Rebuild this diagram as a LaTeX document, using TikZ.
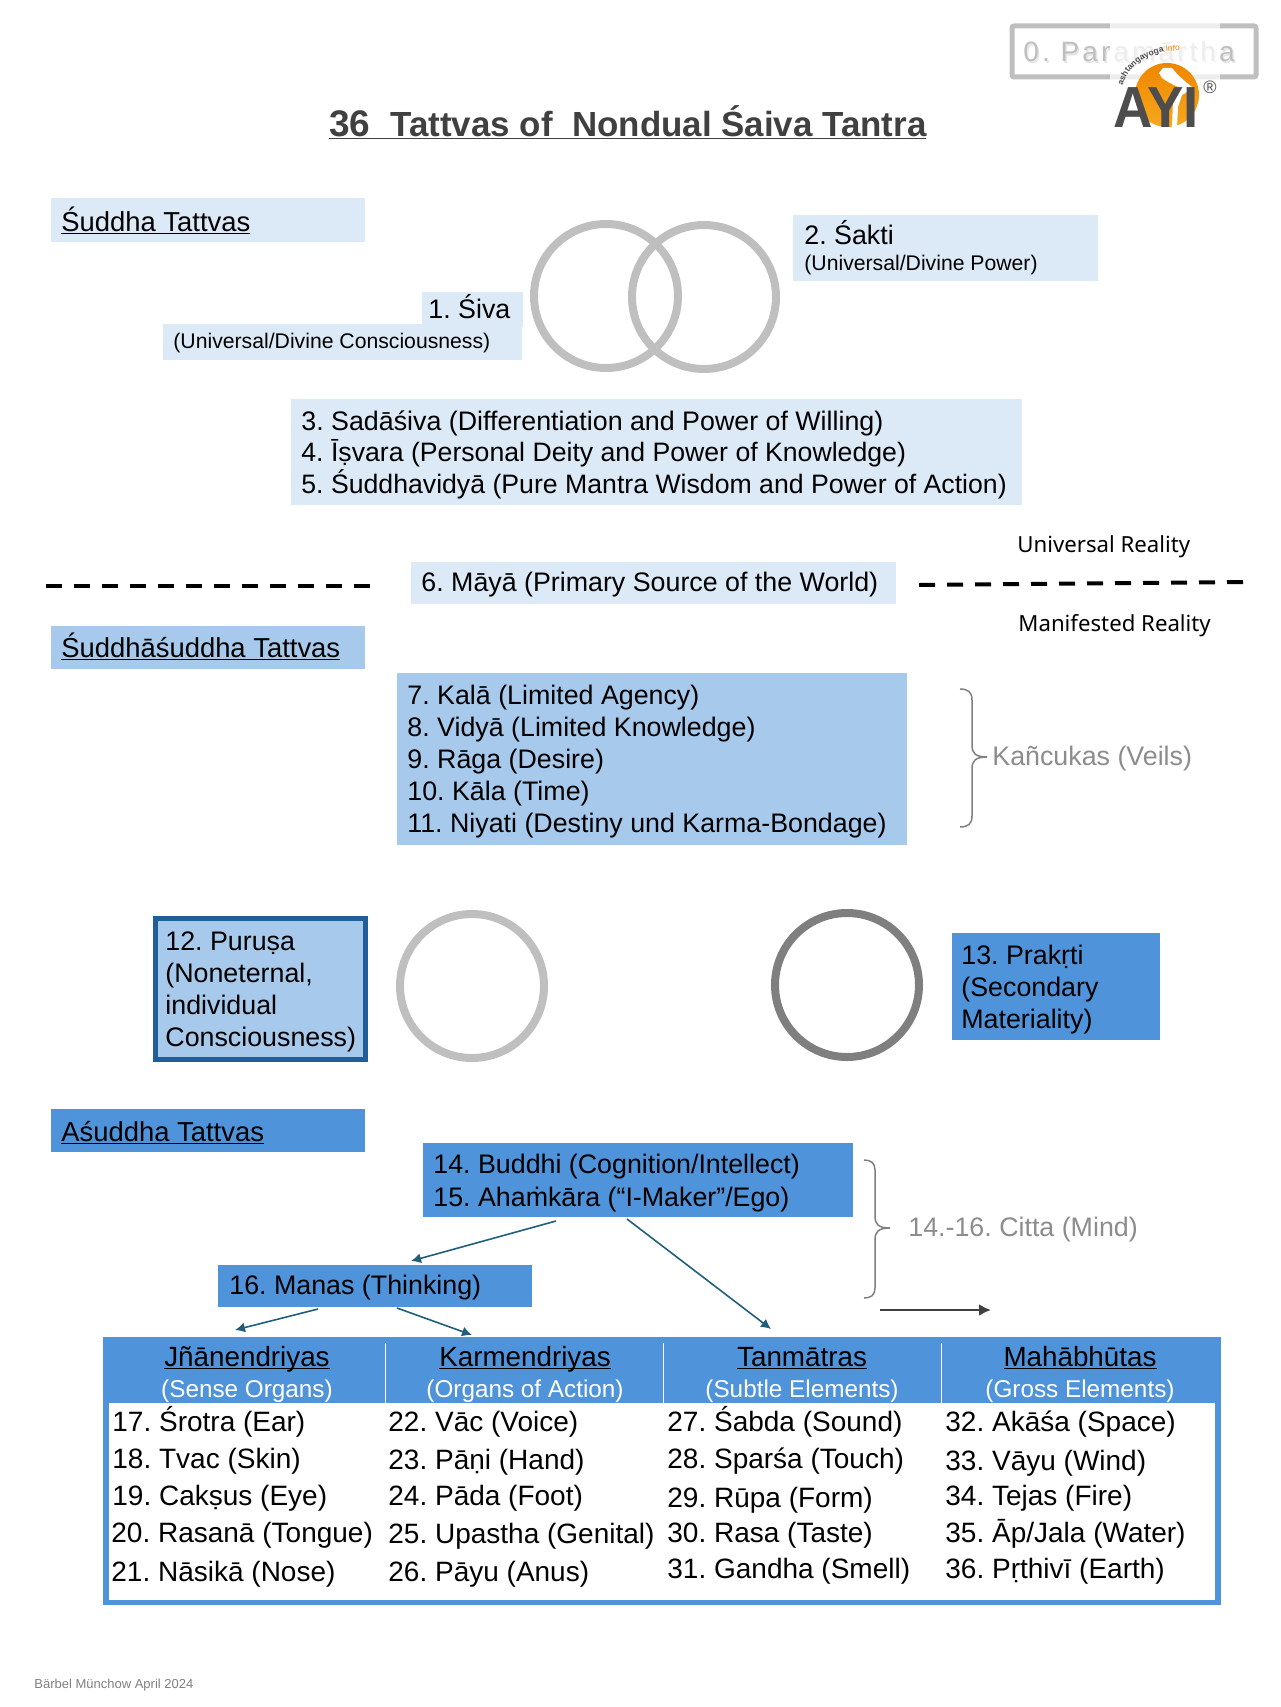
\documentclass[tikz,border=0pt]{standalone}
\usepackage{fontspec}
\setmainfont{Liberation Sans}
\newfontfamily\aptosish{Noto Sans}
\usetikzlibrary{decorations.text,arrows.meta}
\definecolor{boxA}{HTML}{DCE9F6}
\definecolor{boxB}{HTML}{A6C9EC}
\definecolor{boxC}{HTML}{4F93DA}
\definecolor{edgeB}{HTML}{1F5E99}
\definecolor{teal}{HTML}{1F5F7A}
\definecolor{ringA}{HTML}{BFBFBF}
\definecolor{ringB}{HTML}{7F7F7F}
\definecolor{greyT}{HTML}{8C8C8C}
\definecolor{logoG}{HTML}{4D4D4D}
\definecolor{logoO}{HTML}{EE8600}
\definecolor{logoY}{HTML}{F7A81E}
\newcommand\myul[1]{\setbox0=\hbox{#1}\rlap{\rule[-1.6pt]{\wd0}{0.75pt}}\box0}
\newcommand\sz[1]{\fontsize{#1}{#1}\selectfont}
\tikzset{
 lbl/.style={anchor=base west,inner sep=0pt,text=black,font=\sz{13.4}},
 lblS/.style={lbl,font=\sz{10.6}},
 cell/.style={lbl,font=\sz{14}},
 secname/.style={lbl,font=\sz{13.7}},
 head/.style={anchor=base,inner sep=0pt,text=black,font=\sz{13.9}},
 sub/.style={anchor=base,inner sep=0pt,text=white,font=\sz{12.15}},
 greyL/.style={lbl,text=greyT},
 real/.style={lbl,font=\aptosish\sz{11.1}},
 ring/.style={line width=4pt,draw=ringA},
 flow/.style={draw=teal,line width=.8pt,-{Latex[length=5pt,width=5pt]}},
 curly/.style={draw=ringB,line width=.75pt},
 cut/.style={line width=2pt,draw=black,dash pattern=on 8pt off 6pt},
 dot/.style={inner sep=0pt,minimum size=0pt},
}
\begin{document}
\frenchspacing
\begin{tikzpicture}[x=.5pt,y=-.5pt]
\useasboundingbox (0,0) rectangle (1280,1707);
% logo with washed-out Paramartha box
\draw[line width=2.5pt,draw=ringA,rounded corners=1pt] (1012,26) rectangle (1256,77);
\node[lbl,text=black!10,font=\addfontfeature{LetterSpace=11}\sz{14}] (p0s) at (1024.5,63.5) {0. Paramārtha};
\node[lbl,text=black!25,font=\addfontfeature{LetterSpace=11}\sz{14}] (p0) at (1023,62) {0. Paramārtha};
\fill[white,opacity=.72] (1110,22) rectangle (1220,81);
\shade[top color=logoO,bottom color=logoY] (1167,95) circle (32);
\fill[white] (1159,73) -- (1163,68) -- (1172,68) -- (1178,75) -- (1187,83) -- (1192,87) -- (1190,90) -- (1182,95) -- (1178,107) -- (1177,127) -- (1172,127) -- (1173,100) -- (1178,87) -- (1168,82) -- (1162,78) -- cycle;
\node[anchor=base,inner sep=0pt,text=logoG,font=\bfseries\sz{29}] (logoAYI) at (1156,127) {\scalebox{.94}[1]{AYI}};
\node[anchor=center,inner sep=0pt,text=logoG,font=\sz{9}] (logoR) at (1210,87) {®};
\path[decorate,decoration={text along path,text={|\sz{4.2}\bfseries\color{logoG}|ashtangayoga|\sz{4.2}\color{logoO}|.info},text align=left}] (1123,86) .. controls (1127,65) and (1153,46) .. (1192,52);
% title
\node[lbl,text=black!75,font=\bfseries\sz{17.45}] (title) at (329,136) {\myul{\sz{18.5}36 \sz{17.45} Tattvas of~~Nondual Śaiva Tantra}};
% boxes
\path[fill=boxA] (51,198) rectangle (365,242) node[midway,dot] (bShu) {};
\path[fill=boxA] (793,215) rectangle (1098,281) node[midway,dot] (bSak) {};
\path[fill=boxA] (422,292) rectangle (523,327) node[midway,dot] (bSiv) {};
\path[fill=boxA] (163,324) rectangle (522,360) node[midway,dot] (bSiv2) {};
\path[fill=boxA] (291,399) rectangle (1022,505) node[midway,dot] (bSad) {};
\path[fill=boxA] (411,562) rectangle (896,604) node[midway,dot] (bMay) {};
\path[fill=boxB] (51,626) rectangle (365,669) node[midway,dot] (bSua) {};
\path[fill=boxB] (397,673) rectangle (907,845) node[midway,dot] (bKal) {};
\path[fill=boxB,draw=edgeB,line width=2.5pt] (155,918) rectangle (365,1059) node[midway,dot] (bPur) {};
\path[fill=boxC] (952,933) rectangle (1160,1040) node[midway,dot] (bPra) {};
\path[fill=boxC] (51,1109) rectangle (365,1152) node[midway,dot] (bAsu) {};
\path[fill=boxC] (423,1143) rectangle (853,1217) node[midway,dot] (bBud) {};
\path[fill=boxC] (218,1265) rectangle (532,1307) node[midway,dot] (bMan) {};
\path[fill=boxC] (103,1337) rectangle (1221,1605) node[midway,dot] (bTab) {};
\path[fill=white] (109,1403) rectangle (1215,1600) node[midway,dot] (bTabIn) {};
\foreach \i/\xx in {1/385,2/663,3/941} \draw[white,line width=.5pt] (\xx,1343) -- (\xx,1403);
% rings
\draw[ring] (606,296) circle (72);
\draw[ring] (704,297) circle (72);
\draw[ring] (472,986) circle (72);
\draw[ring,draw=ringB] (847,985) circle (72);
% texts
\node[secname] (t1) at (61,231) {\myul{Śuddha Tattvas}};
\node[lbl] (t2) at (804,244) {2. Śakti};
\node[lblS] (t2b) at (804,270) {(Universal/Divine Power)};
\node[lbl] (t3) at (428,318) {1. Śiva};
\node[lblS] (t3b) at (173,348) {(Universal/Divine Consciousness)};
\node[lbl] (t4) at (301,430) {3. Sadāśiva (Differentiation and Power of Willing)};
\node[lbl,font=\sz{13.33}] (t5) at (301,461) {4. Īṣvara (Personal Deity and Power of Knowledge)};
\node[lbl,font=\sz{13.33}] (t6) at (301,493) {5. Śuddhavidyā (Pure Mantra Wisdom and Power of Action)};
\node[real] (tU) at (1017,552) {Universal Reality};
\node[real] (tM) at (1018,631) {Manifested Reality};
\node[lbl] (t7) at (421,591) {6. Māyā (Primary Source of the World)};
\node[secname] (t8) at (61,657) {\myul{Śuddhāśuddha Tattvas}};
\node[lbl] (k7) at (407,704) {7. Kalā (Limited Agency)};
\node[lbl] (k8) at (407,736) {8. Vidyā (Limited Knowledge)};
\node[lbl] (k9) at (407,768) {9. Rāga (Desire)};
\node[lbl] (k10) at (407,800) {10. Kāla (Time)};
\node[lbl] (k11) at (407,832) {11. Niyati (Destiny und Karma-Bondage)};
\node[greyL] (kv) at (992,765) {Kañcukas (Veils)};
\node[lbl] (p1) at (165,950) {12. Puruṣa};
\node[lbl] (p2) at (165,982) {(Noneternal,};
\node[lbl] (p3) at (165,1014) {individual};
\node[lbl] (p4) at (165,1046) {Consciousness)};
\node[lbl] (r1) at (961,964) {13. Prakṛti};
\node[lbl] (r2) at (961,996) {(Secondary};
\node[lbl] (r3) at (961,1028) {Materiality)};
\node[secname] (a1) at (61,1141) {\myul{Aśuddha Tattvas}};
\node[lbl] (b14) at (433,1173) {14. Buddhi (Cognition/Intellect)};
\node[lbl] (b15) at (433,1206) {15. Ahaṁkāra (“I-Maker”/Ego)};
\node[lbl] (m16) at (229,1294) {16. Manas (Thinking)};
\node[greyL] (cit) at (908,1236) {14.-16. Citta (Mind)};
% table heads
\node[head] (h1) at (247,1366) {\myul{Jñānendriyas}};
\node[head] (h2) at (525,1366) {\myul{Karmendriyas}};
\node[head] (h3) at (802,1366) {\myul{Tanmātras}};
\node[head] (h4) at (1080,1366) {\myul{Mahābhūtas}};
\node[sub] (s1) at (247,1397) {(Sense Organs)};
\node[sub] (s2) at (525,1397) {(Organs of Action)};
\node[sub] (s3) at (802,1397) {(Subtle Elements)};
\node[sub] (s4) at (1080,1397) {(Gross Elements)};
% table cells
\node[cell] (c17) at (112,1431) {17. Śrotra (Ear)};
\node[cell] (c18) at (112,1468) {18. Tvac (Skin)};
\node[cell] (c19) at (112,1505) {19. Cakṣus (Eye)};
\node[cell] (c20) at (111,1542) {20. Rasanā (Tongue)};
\node[cell] (c21) at (111,1581) {21. Nāsikā (Nose)};
\node[cell] (c22) at (388,1431) {22. Vāc (Voice)};
\node[cell] (c23) at (388,1469) {23. Pāṇi (Hand)};
\node[cell] (c24) at (388,1505) {24. Pāda (Foot)};
\node[cell] (c25) at (388,1543) {25. Upastha (Genital)};
\node[cell] (c26) at (388,1581) {26. Pāyu (Anus)};
\node[cell] (c27) at (667,1431) {27. Śabda (Sound)};
\node[cell] (c28) at (667,1468) {28. Sparśa (Touch)};
\node[cell] (c29) at (667,1507) {29. Rūpa (Form)};
\node[cell] (c30) at (667,1542) {30. Rasa (Taste)};
\node[cell] (c31) at (667,1578) {31. Gandha (Smell)};
\node[cell] (c32) at (945,1431) {32. Akāśa (Space)};
\node[cell] (c33) at (945,1470) {33. Vāyu (Wind)};
\node[cell] (c34) at (945,1505) {34. Tejas (Fire)};
\node[cell] (c35) at (945,1542) {35. Āp/Jala (Water)};
\node[cell] (c36) at (945,1578) {36. Pṛthivī (Earth)};
\node[lbl,text=black!50,font=\sz{6.5}] (foot) at (34,1688) {Bärbel Münchow April 2024};
% dashed separators
\coordinate (dL1) at (46,586); \coordinate (dL2) at (370,586);
\coordinate (dR1) at (919,585); \coordinate (dR2) at (1243,582);
\draw[cut] (dL1) -- (dL2);
\draw[cut] (dR1) -- (dR2);
% braces
\draw[curly] (960,689) .. controls (968,689) and (972,692) .. (972,700) -- (972,745) .. controls (972,753) and (975,757) .. (987,757) .. controls (975,757) and (972,761) .. (972,769) -- (972,816) .. controls (972,824) and (968,827) .. (960,827);
\draw[curly] (864,1160) .. controls (871,1160) and (875,1163) .. (875,1170) -- (875,1216) .. controls (875,1224) and (878,1228) .. (890,1228) .. controls (878,1228) and (875,1232) .. (875,1240) -- (875,1288) .. controls (875,1295) and (871,1298) .. (864,1298);
% arrows
\coordinate (f1) at (556,1221); \coordinate (f2) at (411,1261);
\coordinate (f3) at (627,1219); \coordinate (f4) at (771,1329);
\coordinate (f5) at (318,1309); \coordinate (f6) at (235,1330);
\coordinate (f7) at (397,1308); \coordinate (f8) at (472,1335);
\coordinate (f9) at (880,1310); \coordinate (f10) at (991,1310);
\draw[flow] (f1) -- (f2);
\draw[flow] (f3) -- (f4);
\draw[flow] (f5) -- (f6);
\draw[flow] (f7) -- (f8);
\draw[draw=black!75,line width=1.4pt,-{Latex[length=6pt,width=6pt]}] (f9) -- (f10);
\end{tikzpicture}
\end{document}
